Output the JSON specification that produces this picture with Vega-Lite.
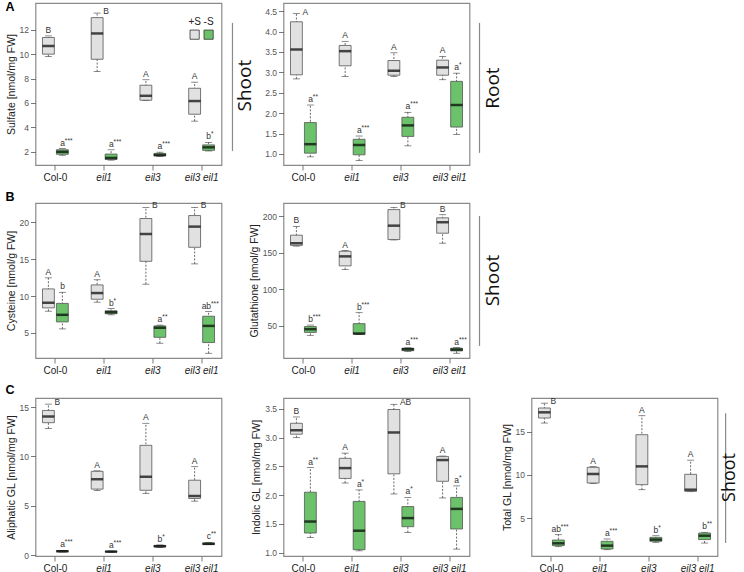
{
 "$schema": "https://vega.github.io/schema/vega-lite/v6.json",
 "background": "white",
 "padding": {"left": 4.5, "top": 0, "right": 0, "bottom": 0},
 "datasets": {
  "sulfate_shoot": [
   {"g":"Col-0","treat":"+S","min":9.8,"q1":10.0,"median":10.68,"q3":11.37,"max":11.5,"letter":"B","stars":""},
   {"g":"Col-0","treat":"-S","min":1.7,"q1":1.78,"median":1.98,"q3":2.15,"max":2.25,"letter":"a","stars":"***"},
   {"g":"eil1","treat":"+S","min":8.57,"q1":9.58,"median":11.7,"q3":13.0,"max":13.37,"letter":"B","stars":""},
   {"g":"eil1","treat":"-S","min":1.3,"q1":1.35,"median":1.48,"q3":1.8,"max":2.15,"letter":"a","stars":"***"},
   {"g":"eil3","treat":"+S","min":6.2,"q1":6.22,"median":6.58,"q3":7.45,"max":7.9,"letter":"A","stars":""},
   {"g":"eil3","treat":"-S","min":1.6,"q1":1.65,"median":1.72,"q3":1.85,"max":1.95,"letter":"a","stars":"***"},
   {"g":"eil3 eil1","treat":"+S","min":4.5,"q1":5.07,"median":6.15,"q3":7.2,"max":7.7,"letter":"A","stars":""},
   {"g":"eil3 eil1","treat":"-S","min":2.05,"q1":2.1,"median":2.35,"q3":2.55,"max":2.75,"letter":"b","stars":"*"}
  ],
  "sulfate_root": [
   {"g":"Col-0","treat":"+S","min":2.84,"q1":2.94,"median":3.56,"q3":4.24,"max":4.44,"letter":"A","stars":""},
   {"g":"Col-0","treat":"-S","min":0.93,"q1":1.02,"median":1.24,"q3":1.77,"max":2.2,"letter":"a","stars":"**"},
   {"g":"eil1","treat":"+S","min":2.9,"q1":3.16,"median":3.52,"q3":3.66,"max":3.76,"letter":"A","stars":""},
   {"g":"eil1","treat":"-S","min":0.84,"q1":0.98,"median":1.22,"q3":1.36,"max":1.44,"letter":"a","stars":"***"},
   {"g":"eil3","treat":"+S","min":2.9,"q1":2.93,"median":3.04,"q3":3.29,"max":3.48,"letter":"A","stars":""},
   {"g":"eil3","treat":"-S","min":1.2,"q1":1.43,"median":1.7,"q3":1.9,"max":2.02,"letter":"a","stars":"***"},
   {"g":"eil3 eil1","treat":"+S","min":2.82,"q1":2.93,"median":3.12,"q3":3.3,"max":3.39,"letter":"A","stars":""},
   {"g":"eil3 eil1","treat":"-S","min":1.48,"q1":1.66,"median":2.2,"q3":2.78,"max":2.98,"letter":"a","stars":"*"}
  ],
  "cysteine": [
   {"g":"Col-0","treat":"+S","min":7.94,"q1":8.39,"median":9.1,"q3":10.96,"max":12.46,"letter":"A","stars":""},
   {"g":"Col-0","treat":"-S","min":5.54,"q1":6.49,"median":7.45,"q3":9.0,"max":10.5,"letter":"b","stars":""},
   {"g":"eil1","treat":"+S","min":9.16,"q1":9.56,"median":10.4,"q3":11.5,"max":12.2,"letter":"A","stars":""},
   {"g":"eil1","treat":"-S","min":7.45,"q1":7.6,"median":7.8,"q3":8.0,"max":8.3,"letter":"b","stars":"*"},
   {"g":"eil3","treat":"+S","min":11.6,"q1":14.7,"median":18.4,"q3":20.5,"max":22.0,"letter":"B","stars":""},
   {"g":"eil3","treat":"-S","min":3.6,"q1":4.4,"median":5.7,"q3":5.95,"max":6.05,"letter":"a","stars":"**"},
   {"g":"eil3 eil1","treat":"+S","min":14.35,"q1":16.6,"median":19.4,"q3":20.9,"max":22.0,"letter":"B","stars":""},
   {"g":"eil3 eil1","treat":"-S","min":2.24,"q1":3.69,"median":5.95,"q3":7.26,"max":7.9,"letter":"ab","stars":"***"}
  ],
  "glutathione": [
   {"g":"Col-0","treat":"+S","min":159,"q1":160,"median":163,"q3":174,"max":186,"letter":"B","stars":""},
   {"g":"Col-0","treat":"-S","min":37,"q1":41,"median":45.4,"q3":49,"max":51,"letter":"b","stars":"***"},
   {"g":"eil1","treat":"+S","min":127,"q1":132,"median":145,"q3":152,"max":153,"letter":"A","stars":""},
   {"g":"eil1","treat":"-S","min":38,"q1":38.6,"median":39.5,"q3":53,"max":68,"letter":"b","stars":"***"},
   {"g":"eil3","treat":"+S","min":167.5,"q1":168,"median":187,"q3":209,"max":212,"letter":"B","stars":""},
   {"g":"eil3","treat":"-S","min":15,"q1":16,"median":18,"q3":19.4,"max":20,"letter":"a","stars":"***"},
   {"g":"eil3 eil1","treat":"+S","min":163,"q1":176.7,"median":191.7,"q3":197.7,"max":202,"letter":"B","stars":""},
   {"g":"eil3 eil1","treat":"-S","min":12.5,"q1":15.7,"median":17.5,"q3":19.4,"max":20.3,"letter":"a","stars":"***"}
  ],
  "aliphatic": [
   {"g":"Col-0","treat":"+S","min":12.84,"q1":13.42,"median":14.04,"q3":14.66,"max":15.3,"letter":"B","stars":""},
   {"g":"Col-0","treat":"-S","min":0.33,"q1":0.36,"median":0.41,"q3":0.48,"max":0.5,"letter":"a","stars":"***"},
   {"g":"eil1","treat":"+S","min":6.55,"q1":6.7,"median":7.7,"q3":8.5,"max":8.55,"letter":"A","stars":""},
   {"g":"eil1","treat":"-S","min":0.32,"q1":0.34,"median":0.37,"q3":0.41,"max":0.44,"letter":"a","stars":"***"},
   {"g":"eil3","treat":"+S","min":6.27,"q1":6.58,"median":7.95,"q3":11.13,"max":13.36,"letter":"A","stars":""},
   {"g":"eil3","treat":"-S","min":0.78,"q1":0.85,"median":0.92,"q3":1.0,"max":1.05,"letter":"b","stars":"*"},
   {"g":"eil3 eil1","treat":"+S","min":5.48,"q1":5.75,"median":6.0,"q3":7.6,"max":8.97,"letter":"A","stars":""},
   {"g":"eil3 eil1","treat":"-S","min":1.08,"q1":1.1,"median":1.16,"q3":1.25,"max":1.3,"letter":"c","stars":"**"}
  ],
  "indolic": [
   {"g":"Col-0","treat":"+S","min":3.0,"q1":3.06,"median":3.13,"q3":3.25,"max":3.36,"letter":"B","stars":""},
   {"g":"Col-0","treat":"-S","min":1.26,"q1":1.34,"median":1.54,"q3":2.05,"max":2.48,"letter":"a","stars":"**"},
   {"g":"eil1","treat":"+S","min":2.21,"q1":2.29,"median":2.47,"q3":2.64,"max":2.73,"letter":"A","stars":""},
   {"g":"eil1","treat":"-S","min":1.03,"q1":1.05,"median":1.38,"q3":1.89,"max":2.09,"letter":"a","stars":"*"},
   {"g":"eil3","treat":"+S","min":2.02,"q1":2.37,"median":3.09,"q3":3.49,"max":3.58,"letter":"AB","stars":""},
   {"g":"eil3","treat":"-S","min":1.35,"q1":1.45,"median":1.6,"q3":1.8,"max":1.96,"letter":"a","stars":"*"},
   {"g":"eil3 eil1","treat":"+S","min":1.95,"q1":2.24,"median":2.61,"q3":2.67,"max":2.68,"letter":"A","stars":""},
   {"g":"eil3 eil1","treat":"-S","min":1.06,"q1":1.41,"median":1.76,"q3":1.96,"max":2.16,"letter":"a","stars":"*"}
  ],
  "total": [
   {"g":"Col-0","treat":"+S","min":16.0,"q1":16.58,"median":17.24,"q3":17.74,"max":18.3,"letter":"B","stars":""},
   {"g":"Col-0","treat":"-S","min":1.68,"q1":1.8,"median":2.07,"q3":2.45,"max":3.07,"letter":"ab","stars":"***"},
   {"g":"eil1","treat":"+S","min":9.0,"q1":9.05,"median":10.1,"q3":10.87,"max":10.95,"letter":"A","stars":""},
   {"g":"eil1","treat":"-S","min":1.33,"q1":1.41,"median":1.8,"q3":2.3,"max":2.57,"letter":"a","stars":"***"},
   {"g":"eil3","treat":"+S","min":8.28,"q1":8.86,"median":10.98,"q3":14.65,"max":16.85,"letter":"A","stars":""},
   {"g":"eil3","treat":"-S","min":2.18,"q1":2.3,"median":2.5,"q3":2.76,"max":2.95,"letter":"b","stars":"*"},
   {"g":"eil3 eil1","treat":"+S","min":8.05,"q1":8.09,"median":8.28,"q3":10.06,"max":11.7,"letter":"A","stars":""},
   {"g":"eil3 eil1","treat":"-S","min":2.1,"q1":2.5,"median":2.95,"q3":3.26,"max":3.34,"letter":"b","stars":"**"}
  ]
 },
 "spacing": 8,
 "vconcat": [
  {
   "title": {"text": "A", "anchor": "start", "frame": "bounds", "offset": -11},
   "spacing": 5,
   "bounds": "flush",
   "hconcat": [
    {
     "width": 186, "height": 162,
     "data": {"name": "sulfate_shoot"},
     "encoding": {
      "x": {"field": "g", "type": "nominal", "title": null, "scale": {"domain": ["Col-0","eil1","eil3","eil3 eil1"], "paddingInner": 0.47, "paddingOuter": 0.143}, "axis": {"labelFontStyle": {"condition": {"test": "datum.value === 'Col-0'", "value": "normal"}, "value": "italic"}}},
      "xOffset": {"field": "treat", "type": "nominal", "scale": {"domain": ["+S","-S"], "paddingInner": 0.15}}
     },
     "layer": [
      {"mark": {"type": "rule", "strokeDash": [2,1.5], "color": "#444", "strokeWidth": 0.8}, "encoding": {"y": {"field": "min", "type": "quantitative", "title": "Sulfate [nmol/mg FW]", "scale": {"domain": [0.9,14.2], "nice": false, "zero": false}, "axis": {"values": [2,4,6,8,10,12], "labelOverlap": false}}, "y2": {"field": "max"}}},
      {"mark": {"type": "tick", "color": "#333", "thickness": 0.8, "size": 7}, "encoding": {"y": {"field": "min", "type": "quantitative", "title": "Sulfate [nmol/mg FW]", "axis": {"values": [2,4,6,8,10,12], "labelOverlap": false}}}},
      {"mark": {"type": "tick", "color": "#333", "thickness": 0.8, "size": 7}, "encoding": {"y": {"field": "max", "type": "quantitative", "title": "Sulfate [nmol/mg FW]", "axis": {"values": [2,4,6,8,10,12], "labelOverlap": false}}}},
      {"mark": {"type": "bar", "stroke": "#555", "strokeWidth": 0.8}, "encoding": {"y": {"field": "q1", "type": "quantitative", "title": "Sulfate [nmol/mg FW]", "axis": {"values": [2,4,6,8,10,12], "labelOverlap": false}}, "y2": {"field": "q3"}, "color": {"field": "treat", "type": "nominal", "scale": {"domain": ["+S","-S"], "range": ["#e1e1e1","#6bc26b"]}, "legend": null}}},
      {"mark": {"type": "tick", "color": "#000", "thickness": 2.5, "size": 12}, "encoding": {"y": {"field": "median", "type": "quantitative", "title": "Sulfate [nmol/mg FW]", "axis": {"values": [2,4,6,8,10,12], "labelOverlap": false}}}},
      {"transform": [{"filter": "datum.treat === '+S' && datum.max <= 13"}], "mark": {"type": "text", "fontSize": 8.5, "color": "#333", "baseline": "alphabetic", "dy": -3}, "encoding": {"y": {"field": "max", "type": "quantitative", "title": "Sulfate [nmol/mg FW]", "axis": {"values": [2,4,6,8,10,12], "labelOverlap": false}}, "text": {"field": "letter"}}},
      {"transform": [{"filter": "datum.treat === '+S' && datum.max > 13"}], "mark": {"type": "text", "fontSize": 8.5, "color": "#333", "align": "left", "baseline": "middle", "dx": 6, "dy": -2}, "encoding": {"y": {"field": "max", "type": "quantitative", "title": "Sulfate [nmol/mg FW]", "axis": {"values": [2,4,6,8,10,12], "labelOverlap": false}}, "text": {"field": "letter"}}},
      {"transform": [{"filter": "datum.treat === '-S'"}], "mark": {"type": "text", "fontSize": 8.5, "color": "#333", "align": "right", "dx": 2.5, "baseline": "alphabetic", "dy": -3}, "encoding": {"y": {"field": "max", "type": "quantitative", "title": "Sulfate [nmol/mg FW]", "axis": {"values": [2,4,6,8,10,12], "labelOverlap": false}}, "text": {"field": "letter"}}},
      {"transform": [{"filter": "datum.treat === '-S'"}], "mark": {"type": "text", "fontSize": 6.5, "color": "#333", "align": "left", "dx": 2.5, "baseline": "alphabetic", "dy": -6}, "encoding": {"y": {"field": "max", "type": "quantitative", "title": "Sulfate [nmol/mg FW]", "axis": {"values": [2,4,6,8,10,12], "labelOverlap": false}}, "text": {"field": "stars"}}},
      {"data": {"values": [{"treat": "+S"}, {"treat": "-S"}]}, "mark": {"type": "square", "size": 85, "filled": true, "opacity": 1, "stroke": "#333", "strokeWidth": 0.8}, "encoding": {"x": {"datum": "eil3 eil1", "type": "nominal", "title": null}, "y": {"datum": 11.6, "type": "quantitative", "title": "Sulfate [nmol/mg FW]", "axis": {"values": [2,4,6,8,10,12], "labelOverlap": false}}, "color": {"field": "treat", "type": "nominal", "legend": null}}},
      {"data": {"values": [{"treat": "+S"}, {"treat": "-S"}]}, "mark": {"type": "text", "fontSize": 10, "color": "#222", "baseline": "alphabetic"}, "encoding": {"x": {"datum": "eil3 eil1", "type": "nominal", "title": null}, "y": {"datum": 12.4, "type": "quantitative", "title": "Sulfate [nmol/mg FW]", "axis": {"values": [2,4,6,8,10,12], "labelOverlap": false}}, "text": {"field": "treat"}}}
     ]
    },
    {
     "width": 52, "height": 162,
     "view": {"stroke": null},
     "data": {"values": [{"t": "Shoot"}]},
     "layer": [
      {"mark": {"type": "rule", "color": "#8a8a8a", "strokeWidth": 1.2}, "encoding": {"x": {"datum": 0.115, "type": "quantitative", "scale": {"domain": [0,1]}, "axis": null}, "y": {"datum": 0.086, "type": "quantitative", "scale": {"domain": [0,1]}, "axis": null}, "y2": {"datum": 0.877}}},
      {"mark": {"type": "text", "angle": 270, "fontSize": 19, "font": "Open Sans", "color": "#111", "align": "center", "baseline": "middle"}, "encoding": {"x": {"datum": 0.365, "type": "quantitative", "axis": null}, "y": {"datum": 0.49, "type": "quantitative", "axis": null}, "text": {"field": "t"}}}
     ]
    },
    {
     "width": 186, "height": 162,
     "data": {"name": "sulfate_root"},
     "encoding": {
      "x": {"field": "g", "type": "nominal", "title": null, "scale": {"domain": ["Col-0","eil1","eil3","eil3 eil1"], "paddingInner": 0.47, "paddingOuter": 0.143}, "axis": {"labelFontStyle": {"condition": {"test": "datum.value === 'Col-0'", "value": "normal"}, "value": "italic"}}},
      "xOffset": {"field": "treat", "type": "nominal", "scale": {"domain": ["+S","-S"], "paddingInner": 0.15}}
     },
     "layer": [
      {"mark": {"type": "rule", "strokeDash": [2,1.5], "color": "#444", "strokeWidth": 0.8}, "encoding": {"y": {"field": "min", "type": "quantitative", "title": null, "scale": {"domain": [0.73,4.7], "nice": false, "zero": false}, "axis": {"values": [1,1.5,2,2.5,3,3.5,4,4.5], "format": ".1f", "labelOverlap": false}}, "y2": {"field": "max"}}},
      {"mark": {"type": "tick", "color": "#333", "thickness": 0.8, "size": 7}, "encoding": {"y": {"field": "min", "type": "quantitative", "title": null, "axis": {"values": [1,1.5,2,2.5,3,3.5,4,4.5], "format": ".1f", "labelOverlap": false}}}},
      {"mark": {"type": "tick", "color": "#333", "thickness": 0.8, "size": 7}, "encoding": {"y": {"field": "max", "type": "quantitative", "title": null, "axis": {"values": [1,1.5,2,2.5,3,3.5,4,4.5], "format": ".1f", "labelOverlap": false}}}},
      {"mark": {"type": "bar", "stroke": "#555", "strokeWidth": 0.8}, "encoding": {"y": {"field": "q1", "type": "quantitative", "title": null, "axis": {"values": [1,1.5,2,2.5,3,3.5,4,4.5], "format": ".1f", "labelOverlap": false}}, "y2": {"field": "q3"}, "color": {"field": "treat", "type": "nominal", "scale": {"domain": ["+S","-S"], "range": ["#e1e1e1","#6bc26b"]}, "legend": null}}},
      {"mark": {"type": "tick", "color": "#000", "thickness": 2.5, "size": 12}, "encoding": {"y": {"field": "median", "type": "quantitative", "title": null, "axis": {"values": [1,1.5,2,2.5,3,3.5,4,4.5], "format": ".1f", "labelOverlap": false}}}},
      {"transform": [{"filter": "datum.treat === '+S' && datum.max <= 4.3"}], "mark": {"type": "text", "fontSize": 8.5, "color": "#333", "baseline": "alphabetic", "dy": -3}, "encoding": {"y": {"field": "max", "type": "quantitative", "title": null, "axis": {"values": [1,1.5,2,2.5,3,3.5,4,4.5], "format": ".1f", "labelOverlap": false}}, "text": {"field": "letter"}}},
      {"transform": [{"filter": "datum.treat === '+S' && datum.max > 4.3"}], "mark": {"type": "text", "fontSize": 8.5, "color": "#333", "align": "left", "baseline": "middle", "dx": 6, "dy": -2}, "encoding": {"y": {"field": "max", "type": "quantitative", "title": null, "axis": {"values": [1,1.5,2,2.5,3,3.5,4,4.5], "format": ".1f", "labelOverlap": false}}, "text": {"field": "letter"}}},
      {"transform": [{"filter": "datum.treat === '-S'"}], "mark": {"type": "text", "fontSize": 8.5, "color": "#333", "align": "right", "dx": 2.5, "baseline": "alphabetic", "dy": -3}, "encoding": {"y": {"field": "max", "type": "quantitative", "title": null, "axis": {"values": [1,1.5,2,2.5,3,3.5,4,4.5], "format": ".1f", "labelOverlap": false}}, "text": {"field": "letter"}}},
      {"transform": [{"filter": "datum.treat === '-S'"}], "mark": {"type": "text", "fontSize": 6.5, "color": "#333", "align": "left", "dx": 2.5, "baseline": "alphabetic", "dy": -6}, "encoding": {"y": {"field": "max", "type": "quantitative", "title": null, "axis": {"values": [1,1.5,2,2.5,3,3.5,4,4.5], "format": ".1f", "labelOverlap": false}}, "text": {"field": "stars"}}}
     ]
    },
    {
     "width": 30, "height": 162,
     "view": {"stroke": null},
     "data": {"values": [{"t": "Root"}]},
     "layer": [
      {"mark": {"type": "rule", "color": "#8a8a8a", "strokeWidth": 1.2}, "encoding": {"x": {"datum": 0.167, "type": "quantitative", "scale": {"domain": [0,1]}, "axis": null}, "y": {"datum": 0.075, "type": "quantitative", "scale": {"domain": [0,1]}, "axis": null}, "y2": {"datum": 0.877}}},
      {"mark": {"type": "text", "angle": 270, "fontSize": 19, "font": "Open Sans", "color": "#111", "align": "center", "baseline": "middle"}, "encoding": {"x": {"datum": 0.6, "type": "quantitative", "axis": null}, "y": {"datum": 0.475, "type": "quantitative", "axis": null}, "text": {"field": "t"}}}
     ]
    }
   ]
  },
  {
   "title": {"text": "B", "anchor": "start", "frame": "bounds", "offset": -3},
   "spacing": 5,
   "bounds": "flush",
   "hconcat": [
    {
     "width": 186, "height": 155,
     "data": {"name": "cysteine"},
     "encoding": {
      "x": {"field": "g", "type": "nominal", "title": null, "scale": {"domain": ["Col-0","eil1","eil3","eil3 eil1"], "paddingInner": 0.47, "paddingOuter": 0.143}, "axis": {"labelFontStyle": {"condition": {"test": "datum.value === 'Col-0'", "value": "normal"}, "value": "italic"}}},
      "xOffset": {"field": "treat", "type": "nominal", "scale": {"domain": ["+S","-S"], "paddingInner": 0.15}}
     },
     "layer": [
      {"mark": {"type": "rule", "strokeDash": [2,1.5], "color": "#444", "strokeWidth": 0.8}, "encoding": {"y": {"field": "min", "type": "quantitative", "title": "Cysteine [nmol/g FW]", "scale": {"domain": [1.6,22.6], "nice": false, "zero": false}, "axis": {"values": [5,10,15,20], "labelOverlap": false}}, "y2": {"field": "max"}}},
      {"mark": {"type": "tick", "color": "#333", "thickness": 0.8, "size": 7}, "encoding": {"y": {"field": "min", "type": "quantitative", "title": "Cysteine [nmol/g FW]", "axis": {"values": [5,10,15,20], "labelOverlap": false}}}},
      {"mark": {"type": "tick", "color": "#333", "thickness": 0.8, "size": 7}, "encoding": {"y": {"field": "max", "type": "quantitative", "title": "Cysteine [nmol/g FW]", "axis": {"values": [5,10,15,20], "labelOverlap": false}}}},
      {"mark": {"type": "bar", "stroke": "#555", "strokeWidth": 0.8}, "encoding": {"y": {"field": "q1", "type": "quantitative", "title": "Cysteine [nmol/g FW]", "axis": {"values": [5,10,15,20], "labelOverlap": false}}, "y2": {"field": "q3"}, "color": {"field": "treat", "type": "nominal", "scale": {"domain": ["+S","-S"], "range": ["#e1e1e1","#6bc26b"]}, "legend": null}}},
      {"mark": {"type": "tick", "color": "#000", "thickness": 2.5, "size": 12}, "encoding": {"y": {"field": "median", "type": "quantitative", "title": "Cysteine [nmol/g FW]", "axis": {"values": [5,10,15,20], "labelOverlap": false}}}},
      {"transform": [{"filter": "datum.treat === '+S' && datum.max <= 21"}], "mark": {"type": "text", "fontSize": 8.5, "color": "#333", "baseline": "alphabetic", "dy": -3}, "encoding": {"y": {"field": "max", "type": "quantitative", "title": "Cysteine [nmol/g FW]", "axis": {"values": [5,10,15,20], "labelOverlap": false}}, "text": {"field": "letter"}}},
      {"transform": [{"filter": "datum.treat === '+S' && datum.max > 21"}], "mark": {"type": "text", "fontSize": 8.5, "color": "#333", "align": "left", "baseline": "middle", "dx": 6, "dy": -2}, "encoding": {"y": {"field": "max", "type": "quantitative", "title": "Cysteine [nmol/g FW]", "axis": {"values": [5,10,15,20], "labelOverlap": false}}, "text": {"field": "letter"}}},
      {"transform": [{"filter": "datum.treat === '-S'"}], "mark": {"type": "text", "fontSize": 8.5, "color": "#333", "align": "right", "dx": 2.5, "baseline": "alphabetic", "dy": -3}, "encoding": {"y": {"field": "max", "type": "quantitative", "title": "Cysteine [nmol/g FW]", "axis": {"values": [5,10,15,20], "labelOverlap": false}}, "text": {"field": "letter"}}},
      {"transform": [{"filter": "datum.treat === '-S'"}], "mark": {"type": "text", "fontSize": 6.5, "color": "#333", "align": "left", "dx": 2.5, "baseline": "alphabetic", "dy": -6}, "encoding": {"y": {"field": "max", "type": "quantitative", "title": "Cysteine [nmol/g FW]", "axis": {"values": [5,10,15,20], "labelOverlap": false}}, "text": {"field": "stars"}}}
     ]
    },
    {
     "width": 52, "height": 155,
     "view": {"stroke": null},
     "data": {"values": [{"t": ""}]},
     "mark": {"type": "text"},
     "encoding": {"text": {"field": "t"}}
    },
    {
     "width": 186, "height": 155,
     "data": {"name": "glutathione"},
     "encoding": {
      "x": {"field": "g", "type": "nominal", "title": null, "scale": {"domain": ["Col-0","eil1","eil3","eil3 eil1"], "paddingInner": 0.47, "paddingOuter": 0.143}, "axis": {"labelFontStyle": {"condition": {"test": "datum.value === 'Col-0'", "value": "normal"}, "value": "italic"}}},
      "xOffset": {"field": "treat", "type": "nominal", "scale": {"domain": ["+S","-S"], "paddingInner": 0.15}}
     },
     "layer": [
      {"mark": {"type": "rule", "strokeDash": [2,1.5], "color": "#444", "strokeWidth": 0.8}, "encoding": {"y": {"field": "min", "type": "quantitative", "title": "Glutathione [nmol/g FW]", "scale": {"domain": [6,218], "nice": false, "zero": false}, "axis": {"values": [50,100,150,200], "labelOverlap": false}}, "y2": {"field": "max"}}},
      {"mark": {"type": "tick", "color": "#333", "thickness": 0.8, "size": 7}, "encoding": {"y": {"field": "min", "type": "quantitative", "title": "Glutathione [nmol/g FW]", "axis": {"values": [50,100,150,200], "labelOverlap": false}}}},
      {"mark": {"type": "tick", "color": "#333", "thickness": 0.8, "size": 7}, "encoding": {"y": {"field": "max", "type": "quantitative", "title": "Glutathione [nmol/g FW]", "axis": {"values": [50,100,150,200], "labelOverlap": false}}}},
      {"mark": {"type": "bar", "stroke": "#555", "strokeWidth": 0.8}, "encoding": {"y": {"field": "q1", "type": "quantitative", "title": "Glutathione [nmol/g FW]", "axis": {"values": [50,100,150,200], "labelOverlap": false}}, "y2": {"field": "q3"}, "color": {"field": "treat", "type": "nominal", "scale": {"domain": ["+S","-S"], "range": ["#e1e1e1","#6bc26b"]}, "legend": null}}},
      {"mark": {"type": "tick", "color": "#000", "thickness": 2.5, "size": 12}, "encoding": {"y": {"field": "median", "type": "quantitative", "title": "Glutathione [nmol/g FW]", "axis": {"values": [50,100,150,200], "labelOverlap": false}}}},
      {"transform": [{"filter": "datum.treat === '+S' && datum.max <= 205"}], "mark": {"type": "text", "fontSize": 8.5, "color": "#333", "baseline": "alphabetic", "dy": -3}, "encoding": {"y": {"field": "max", "type": "quantitative", "title": "Glutathione [nmol/g FW]", "axis": {"values": [50,100,150,200], "labelOverlap": false}}, "text": {"field": "letter"}}},
      {"transform": [{"filter": "datum.treat === '+S' && datum.max > 205"}], "mark": {"type": "text", "fontSize": 8.5, "color": "#333", "align": "left", "baseline": "middle", "dx": 6, "dy": -2}, "encoding": {"y": {"field": "max", "type": "quantitative", "title": "Glutathione [nmol/g FW]", "axis": {"values": [50,100,150,200], "labelOverlap": false}}, "text": {"field": "letter"}}},
      {"transform": [{"filter": "datum.treat === '-S'"}], "mark": {"type": "text", "fontSize": 8.5, "color": "#333", "align": "right", "dx": 2.5, "baseline": "alphabetic", "dy": -3}, "encoding": {"y": {"field": "max", "type": "quantitative", "title": "Glutathione [nmol/g FW]", "axis": {"values": [50,100,150,200], "labelOverlap": false}}, "text": {"field": "letter"}}},
      {"transform": [{"filter": "datum.treat === '-S'"}], "mark": {"type": "text", "fontSize": 6.5, "color": "#333", "align": "left", "dx": 2.5, "baseline": "alphabetic", "dy": -6}, "encoding": {"y": {"field": "max", "type": "quantitative", "title": "Glutathione [nmol/g FW]", "axis": {"values": [50,100,150,200], "labelOverlap": false}}, "text": {"field": "stars"}}}
     ]
    },
    {
     "width": 30, "height": 155,
     "view": {"stroke": null},
     "data": {"values": [{"t": "Shoot"}]},
     "layer": [
      {"mark": {"type": "rule", "color": "#8a8a8a", "strokeWidth": 1.2}, "encoding": {"x": {"datum": 0.167, "type": "quantitative", "scale": {"domain": [0,1]}, "axis": null}, "y": {"datum": 0.078, "type": "quantitative", "scale": {"domain": [0,1]}, "axis": null}, "y2": {"datum": 0.916}}},
      {"mark": {"type": "text", "angle": 270, "fontSize": 19, "font": "Open Sans", "color": "#111", "align": "center", "baseline": "middle"}, "encoding": {"x": {"datum": 0.633, "type": "quantitative", "axis": null}, "y": {"datum": 0.5, "type": "quantitative", "axis": null}, "text": {"field": "t"}}}
     ]
    }
   ]
  },
  {
   "title": {"text": "C", "anchor": "start", "frame": "bounds", "offset": 0},
   "spacing": 5,
   "bounds": "flush",
   "hconcat": [
    {
     "width": 186, "height": 158,
     "data": {"name": "aliphatic"},
     "encoding": {
      "x": {"field": "g", "type": "nominal", "title": null, "scale": {"domain": ["Col-0","eil1","eil3","eil3 eil1"], "paddingInner": 0.47, "paddingOuter": 0.143}, "axis": {"labelFontStyle": {"condition": {"test": "datum.value === 'Col-0'", "value": "normal"}, "value": "italic"}}},
      "xOffset": {"field": "treat", "type": "nominal", "scale": {"domain": ["+S","-S"], "paddingInner": 0.15}}
     },
     "layer": [
      {"mark": {"type": "rule", "strokeDash": [2,1.5], "color": "#444", "strokeWidth": 0.8}, "encoding": {"y": {"field": "min", "type": "quantitative", "title": "Aliphatic GL [nmol/mg FW]", "scale": {"domain": [-0.07,15.92], "nice": false, "zero": false}, "axis": {"values": [0,5,10,15], "labelOverlap": false}}, "y2": {"field": "max"}}},
      {"mark": {"type": "tick", "color": "#333", "thickness": 0.8, "size": 7}, "encoding": {"y": {"field": "min", "type": "quantitative", "title": "Aliphatic GL [nmol/mg FW]", "axis": {"values": [0,5,10,15], "labelOverlap": false}}}},
      {"mark": {"type": "tick", "color": "#333", "thickness": 0.8, "size": 7}, "encoding": {"y": {"field": "max", "type": "quantitative", "title": "Aliphatic GL [nmol/mg FW]", "axis": {"values": [0,5,10,15], "labelOverlap": false}}}},
      {"mark": {"type": "bar", "stroke": "#555", "strokeWidth": 0.8}, "encoding": {"y": {"field": "q1", "type": "quantitative", "title": "Aliphatic GL [nmol/mg FW]", "axis": {"values": [0,5,10,15], "labelOverlap": false}}, "y2": {"field": "q3"}, "color": {"field": "treat", "type": "nominal", "scale": {"domain": ["+S","-S"], "range": ["#e1e1e1","#6bc26b"]}, "legend": null}}},
      {"mark": {"type": "tick", "color": "#000", "thickness": 2.5, "size": 12}, "encoding": {"y": {"field": "median", "type": "quantitative", "title": "Aliphatic GL [nmol/mg FW]", "axis": {"values": [0,5,10,15], "labelOverlap": false}}}},
      {"transform": [{"filter": "datum.treat === '+S' && datum.max <= 15"}], "mark": {"type": "text", "fontSize": 8.5, "color": "#333", "baseline": "alphabetic", "dy": -3}, "encoding": {"y": {"field": "max", "type": "quantitative", "title": "Aliphatic GL [nmol/mg FW]", "axis": {"values": [0,5,10,15], "labelOverlap": false}}, "text": {"field": "letter"}}},
      {"transform": [{"filter": "datum.treat === '+S' && datum.max > 15"}], "mark": {"type": "text", "fontSize": 8.5, "color": "#333", "align": "left", "baseline": "middle", "dx": 6, "dy": -2}, "encoding": {"y": {"field": "max", "type": "quantitative", "title": "Aliphatic GL [nmol/mg FW]", "axis": {"values": [0,5,10,15], "labelOverlap": false}}, "text": {"field": "letter"}}},
      {"transform": [{"filter": "datum.treat === '-S'"}], "mark": {"type": "text", "fontSize": 8.5, "color": "#333", "align": "right", "dx": 2.5, "baseline": "alphabetic", "dy": -3}, "encoding": {"y": {"field": "max", "type": "quantitative", "title": "Aliphatic GL [nmol/mg FW]", "axis": {"values": [0,5,10,15], "labelOverlap": false}}, "text": {"field": "letter"}}},
      {"transform": [{"filter": "datum.treat === '-S'"}], "mark": {"type": "text", "fontSize": 6.5, "color": "#333", "align": "left", "dx": 2.5, "baseline": "alphabetic", "dy": -6}, "encoding": {"y": {"field": "max", "type": "quantitative", "title": "Aliphatic GL [nmol/mg FW]", "axis": {"values": [0,5,10,15], "labelOverlap": false}}, "text": {"field": "stars"}}}
     ]
    },
    {
     "width": 52, "height": 158,
     "view": {"stroke": null},
     "data": {"values": [{"t": ""}]},
     "mark": {"type": "text"},
     "encoding": {"text": {"field": "t"}}
    },
    {
     "width": 186, "height": 158,
     "data": {"name": "indolic"},
     "encoding": {
      "x": {"field": "g", "type": "nominal", "title": null, "scale": {"domain": ["Col-0","eil1","eil3","eil3 eil1"], "paddingInner": 0.47, "paddingOuter": 0.143}, "axis": {"labelFontStyle": {"condition": {"test": "datum.value === 'Col-0'", "value": "normal"}, "value": "italic"}}},
      "xOffset": {"field": "treat", "type": "nominal", "scale": {"domain": ["+S","-S"], "paddingInner": 0.15}}
     },
     "layer": [
      {"mark": {"type": "rule", "strokeDash": [2,1.5], "color": "#444", "strokeWidth": 0.8}, "encoding": {"y": {"field": "min", "type": "quantitative", "title": "Indolic GL [nmol/mg FW]", "scale": {"domain": [0.94,3.69], "nice": false, "zero": false}, "axis": {"values": [1,1.5,2,2.5,3,3.5], "format": ".1f", "labelOverlap": false}}, "y2": {"field": "max"}}},
      {"mark": {"type": "tick", "color": "#333", "thickness": 0.8, "size": 7}, "encoding": {"y": {"field": "min", "type": "quantitative", "title": "Indolic GL [nmol/mg FW]", "axis": {"values": [1,1.5,2,2.5,3,3.5], "format": ".1f", "labelOverlap": false}}}},
      {"mark": {"type": "tick", "color": "#333", "thickness": 0.8, "size": 7}, "encoding": {"y": {"field": "max", "type": "quantitative", "title": "Indolic GL [nmol/mg FW]", "axis": {"values": [1,1.5,2,2.5,3,3.5], "format": ".1f", "labelOverlap": false}}}},
      {"mark": {"type": "bar", "stroke": "#555", "strokeWidth": 0.8}, "encoding": {"y": {"field": "q1", "type": "quantitative", "title": "Indolic GL [nmol/mg FW]", "axis": {"values": [1,1.5,2,2.5,3,3.5], "format": ".1f", "labelOverlap": false}}, "y2": {"field": "q3"}, "color": {"field": "treat", "type": "nominal", "scale": {"domain": ["+S","-S"], "range": ["#e1e1e1","#6bc26b"]}, "legend": null}}},
      {"mark": {"type": "tick", "color": "#000", "thickness": 2.5, "size": 12}, "encoding": {"y": {"field": "median", "type": "quantitative", "title": "Indolic GL [nmol/mg FW]", "axis": {"values": [1,1.5,2,2.5,3,3.5], "format": ".1f", "labelOverlap": false}}}},
      {"transform": [{"filter": "datum.treat === '+S' && datum.max <= 3.5"}], "mark": {"type": "text", "fontSize": 8.5, "color": "#333", "baseline": "alphabetic", "dy": -3}, "encoding": {"y": {"field": "max", "type": "quantitative", "title": "Indolic GL [nmol/mg FW]", "axis": {"values": [1,1.5,2,2.5,3,3.5], "format": ".1f", "labelOverlap": false}}, "text": {"field": "letter"}}},
      {"transform": [{"filter": "datum.treat === '+S' && datum.max > 3.5"}], "mark": {"type": "text", "fontSize": 8.5, "color": "#333", "align": "left", "baseline": "middle", "dx": 6, "dy": -2}, "encoding": {"y": {"field": "max", "type": "quantitative", "title": "Indolic GL [nmol/mg FW]", "axis": {"values": [1,1.5,2,2.5,3,3.5], "format": ".1f", "labelOverlap": false}}, "text": {"field": "letter"}}},
      {"transform": [{"filter": "datum.treat === '-S'"}], "mark": {"type": "text", "fontSize": 8.5, "color": "#333", "align": "right", "dx": 2.5, "baseline": "alphabetic", "dy": -3}, "encoding": {"y": {"field": "max", "type": "quantitative", "title": "Indolic GL [nmol/mg FW]", "axis": {"values": [1,1.5,2,2.5,3,3.5], "format": ".1f", "labelOverlap": false}}, "text": {"field": "letter"}}},
      {"transform": [{"filter": "datum.treat === '-S'"}], "mark": {"type": "text", "fontSize": 6.5, "color": "#333", "align": "left", "dx": 2.5, "baseline": "alphabetic", "dy": -6}, "encoding": {"y": {"field": "max", "type": "quantitative", "title": "Indolic GL [nmol/mg FW]", "axis": {"values": [1,1.5,2,2.5,3,3.5], "format": ".1f", "labelOverlap": false}}, "text": {"field": "stars"}}}
     ]
    },
    {
     "width": 52, "height": 158,
     "view": {"stroke": null},
     "data": {"values": [{"t": ""}]},
     "mark": {"type": "text"},
     "encoding": {"text": {"field": "t"}}
    },
    {
     "width": 186, "height": 158,
     "data": {"name": "total"},
     "encoding": {
      "x": {"field": "g", "type": "nominal", "title": null, "scale": {"domain": ["Col-0","eil1","eil3","eil3 eil1"], "paddingInner": 0.47, "paddingOuter": 0.143}, "axis": {"labelFontStyle": {"condition": {"test": "datum.value === 'Col-0'", "value": "normal"}, "value": "italic"}}},
      "xOffset": {"field": "treat", "type": "nominal", "scale": {"domain": ["+S","-S"], "paddingInner": 0.15}}
     },
     "layer": [
      {"mark": {"type": "rule", "strokeDash": [2,1.5], "color": "#444", "strokeWidth": 0.8}, "encoding": {"y": {"field": "min", "type": "quantitative", "title": "Total GL [nmol/mg FW]", "scale": {"domain": [0.6,18.9], "nice": false, "zero": false}, "axis": {"values": [5,10,15], "labelOverlap": false}}, "y2": {"field": "max"}}},
      {"mark": {"type": "tick", "color": "#333", "thickness": 0.8, "size": 7}, "encoding": {"y": {"field": "min", "type": "quantitative", "title": "Total GL [nmol/mg FW]", "axis": {"values": [5,10,15], "labelOverlap": false}}}},
      {"mark": {"type": "tick", "color": "#333", "thickness": 0.8, "size": 7}, "encoding": {"y": {"field": "max", "type": "quantitative", "title": "Total GL [nmol/mg FW]", "axis": {"values": [5,10,15], "labelOverlap": false}}}},
      {"mark": {"type": "bar", "stroke": "#555", "strokeWidth": 0.8}, "encoding": {"y": {"field": "q1", "type": "quantitative", "title": "Total GL [nmol/mg FW]", "axis": {"values": [5,10,15], "labelOverlap": false}}, "y2": {"field": "q3"}, "color": {"field": "treat", "type": "nominal", "scale": {"domain": ["+S","-S"], "range": ["#e1e1e1","#6bc26b"]}, "legend": null}}},
      {"mark": {"type": "tick", "color": "#000", "thickness": 2.5, "size": 12}, "encoding": {"y": {"field": "median", "type": "quantitative", "title": "Total GL [nmol/mg FW]", "axis": {"values": [5,10,15], "labelOverlap": false}}}},
      {"transform": [{"filter": "datum.treat === '+S' && datum.max <= 18"}], "mark": {"type": "text", "fontSize": 8.5, "color": "#333", "baseline": "alphabetic", "dy": -3}, "encoding": {"y": {"field": "max", "type": "quantitative", "title": "Total GL [nmol/mg FW]", "axis": {"values": [5,10,15], "labelOverlap": false}}, "text": {"field": "letter"}}},
      {"transform": [{"filter": "datum.treat === '+S' && datum.max > 18"}], "mark": {"type": "text", "fontSize": 8.5, "color": "#333", "align": "left", "baseline": "middle", "dx": 6, "dy": -2}, "encoding": {"y": {"field": "max", "type": "quantitative", "title": "Total GL [nmol/mg FW]", "axis": {"values": [5,10,15], "labelOverlap": false}}, "text": {"field": "letter"}}},
      {"transform": [{"filter": "datum.treat === '-S'"}], "mark": {"type": "text", "fontSize": 8.5, "color": "#333", "align": "right", "dx": 2.5, "baseline": "alphabetic", "dy": -3}, "encoding": {"y": {"field": "max", "type": "quantitative", "title": "Total GL [nmol/mg FW]", "axis": {"values": [5,10,15], "labelOverlap": false}}, "text": {"field": "letter"}}},
      {"transform": [{"filter": "datum.treat === '-S'"}], "mark": {"type": "text", "fontSize": 6.5, "color": "#333", "align": "left", "dx": 2.5, "baseline": "alphabetic", "dy": -6}, "encoding": {"y": {"field": "max", "type": "quantitative", "title": "Total GL [nmol/mg FW]", "axis": {"values": [5,10,15], "labelOverlap": false}}, "text": {"field": "stars"}}}
     ]
    },
    {
     "width": 26, "height": 158,
     "view": {"stroke": null},
     "data": {"values": [{"t": "Shoot"}]},
     "layer": [
      {"mark": {"type": "rule", "color": "#8a8a8a", "strokeWidth": 1.2}, "encoding": {"x": {"datum": 0.12, "type": "quantitative", "scale": {"domain": [0,1]}, "axis": null}, "y": {"datum": 0.083, "type": "quantitative", "scale": {"domain": [0,1]}, "axis": null}, "y2": {"datum": 0.904}}},
      {"mark": {"type": "text", "angle": 270, "fontSize": 18, "font": "Open Sans", "color": "#111", "align": "center", "baseline": "middle"}, "encoding": {"x": {"datum": 0.3, "type": "quantitative", "axis": null}, "y": {"datum": 0.497, "type": "quantitative", "axis": null}, "text": {"field": "t"}}}
     ]
    }
   ]
  }
 ],
 "config": {
  "font": "Liberation Sans",
  "view": {"stroke": "#8a8a8a", "strokeWidth": 1.2},
  "axis": {"grid": false, "domain": false, "tickColor": "#555", "tickWidth": 0.8, "tickSize": 5, "labelFont": "Liberation Sans", "titleFont": "Liberation Sans"},
  "axisY": {"labelFontSize": 8.5, "labelColor": "#555", "labelPadding": 2, "labelOverlap": false, "titleFontSize": 10.5, "titleFontWeight": "normal", "titleColor": "#222", "titlePadding": 3},
  "axisX": {"labelFontSize": 10, "labelColor": "#222", "labelPadding": 2, "labelAngle": 0},
  "title": {"font": "Liberation Sans", "fontSize": 12.5, "fontWeight": "bold", "anchor": "start", "color": "#000"}
 }
}
